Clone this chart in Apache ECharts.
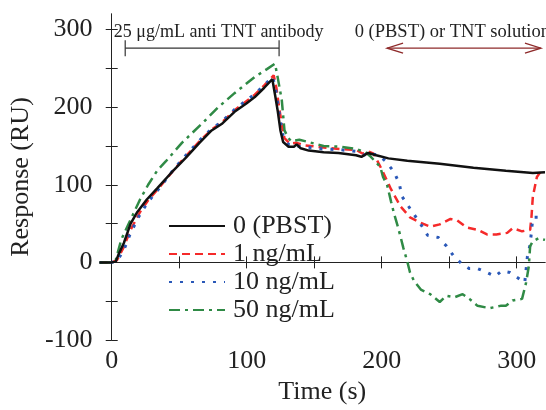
<!DOCTYPE html>
<html>
<head>
<meta charset="UTF-8">
<title>SPR response</title>
<style>
  body { margin: 0; background: #fff; }
  #main { width: 546px; height: 410px; }
</style>
</head>
<body>
<div id="main"></div>
<script src="https://cdn.jsdelivr.net/npm/echarts@6/dist/echarts.min.js"></script>
<script>
// time (s) vs response (RU)
var pbst = [[-9,0],[0,0],[3,1],[5,10],[9,25],[14,50],[19,65],[26,81],[34,96],[46,119],[55,135],[65,154],[74,170],[82,179],[91,194],[100,205],[106,213],[113,225],[119,236],[121,216],[123,195],[125,170],[127,155],[131,149],[135,149],[137,152],[140,147],[146,144],[157,142],[168,141],[181,138],[185,136],[190,141],[196,138],[205,134],[219,131],[243,127],[268,122],[292,118],[312,115],[321,116]];
var tnt1 = [[-9,0],[0,0],[4,3],[9,20],[14,42],[21,65],[27,80],[35,96],[46,119],[55,137],[65,156],[74,171],[82,181],[91,196],[100,208],[106,216],[113,228],[120,241],[122,225],[124,200],[126,178],[128,160],[132,153],[137,154],[142,151],[157,148],[170,146],[181,145],[186,140],[190,143],[194,140],[200,120],[207,94],[214,72],[221,58],[229,51],[236,46],[243,49],[251,56],[256,54],[263,45],[271,42],[278,36],[285,36],[293,38],[297,44],[304,40],[310,42],[311,59],[312,85],[315,110],[317,115],[321,117]];
var tnt10 = [[-9,0],[0,0],[4,2],[9,16],[14,38],[21,62],[27,78],[35,95],[46,120],[55,138],[65,157],[74,172],[82,182],[91,197],[100,209],[106,217],[113,228],[119,239],[121,228],[123,205],[125,182],[127,163],[131,152],[136,150],[142,149],[157,146],[170,145],[181,143],[186,138],[192,140],[198,138],[203,130],[209,117],[213,102],[215,85],[220,72],[229,49],[234,35],[242,32],[248,21],[253,9],[260,-3],[265,-8],[271,-8],[278,-13],[284,-18],[289,-11],[295,-13],[300,-19],[306,-26],[308,8],[310,23],[312,58],[316,58],[321,58]];
var tnt50 = [[-9,0],[0,0],[3,3],[7,29],[14,55],[21,81],[27,100],[34,119],[40,130],[52,154],[67,179],[79,200],[91,218],[106,239],[115,249],[121,256],[123,238],[126,209],[128,170],[131,160],[133,156],[139,158],[157,150],[170,149],[181,146],[188,142],[192,136],[199,123],[201,110],[204,100],[207,78],[209,64],[212,46],[214,33],[216,19],[219,1],[221,-13],[224,-24],[229,-35],[236,-41],[243,-51],[248,-43],[254,-45],[260,-41],[265,-47],[271,-56],[280,-59],[288,-56],[292,-56],[297,-49],[304,-47],[307,-26],[309,-5],[310,21],[312,27],[316,31],[321,29]];

var seriesNames = ['0 (PBST)', '1 ng/mL', '10 ng/mL', '50 ng/mL'];
var xLabels = [0, 100, 200, 300];
var xTicks = [0, 50, 100, 150, 200, 250, 300];
var yLabels = [-100, 0, 100, 200, 300];
var yTicks = [-100, -50, 0, 50, 100, 150, 200, 250, 300];

var FONT = 'Liberation Serif';
var axisLine = { lineStyle: { color: '#222', width: 1 } };
var tick = function (vals) {
  return { inside: true, length: 6, customValues: vals, lineStyle: { color: '#222' } };
};

// annotation: bracket for antibody injection, double arrow for TNT injection
function drawNotes(params, api) {
  var b0 = api.coord([10, 276]), b1 = api.coord([124, 276]);
  var a0 = api.coord([204, 276]), a1 = api.coord([318, 276]);
  var t1 = api.coord([3, 296]), t2 = api.coord([180, 296]);
  var black = { stroke: '#333', lineWidth: 1.2 };
  var red = { stroke: '#8e2a2a', lineWidth: 1.3, fill: null };
  return {
    type: 'group',
    children: [
      { type: 'line', shape: { x1: b0[0], y1: b0[1], x2: b1[0], y2: b1[1] }, style: black },
      { type: 'line', shape: { x1: b0[0], y1: b0[1] - 8, x2: b0[0], y2: b0[1] + 8 }, style: black },
      { type: 'line', shape: { x1: b1[0], y1: b1[1] - 8, x2: b1[0], y2: b1[1] + 8 }, style: black },
      { type: 'line', shape: { x1: a0[0], y1: a0[1], x2: a1[0], y2: a1[1] }, style: red },
      { type: 'polyline', shape: { points: [[a0[0] + 16, a0[1] - 5], [a0[0], a0[1]], [a0[0] + 16, a0[1] + 5]] }, style: red },
      { type: 'polyline', shape: { points: [[a1[0] - 16, a1[1] - 5], [a1[0], a1[1]], [a1[0] - 16, a1[1] + 5]] }, style: red },
      { type: 'text', x: t1[0] - 2, y: t1[1], style: { text: '25 μg/mL anti TNT antibody', font: '18px "Liberation Serif"', fill: '#222', verticalAlign: 'middle' } },
      { type: 'text', x: t2[0], y: t2[1], style: { text: '0 (PBST) or TNT solution', font: '18.5px "Liberation Serif"', fill: '#222', verticalAlign: 'middle' } }
    ]
  };
}

var chart = echarts.init(document.getElementById('main'));
chart.setOption({
  backgroundColor: '#fff',
  animation: false,
  textStyle: { fontFamily: FONT },
  grid: { left: 97, right: 1, top: 14, bottom: 70 },
  legend: {
    data: seriesNames,
    orient: 'vertical',
    left: 168,
    top: 213,
    padding: 0,
    itemWidth: 56,
    itemHeight: 14,
    itemGap: 2,
    itemStyle: { opacity: 0 },
    textStyle: { fontFamily: FONT, fontSize: 26, color: '#222', lineHeight: 26, padding: [0, 0, 0, 3] }
  },
  xAxis: [{
    type: 'value', min: -9, max: 321,
    name: 'Time (s)', nameLocation: 'middle', nameGap: 39,
    nameTextStyle: { fontFamily: FONT, fontSize: 26, color: '#222' },
    axisLine: axisLine, axisTick: tick(xTicks), splitLine: { show: false },
    axisLabel: { customValues: xLabels, fontFamily: FONT, fontSize: 26, color: '#222', margin: 8 }
  }, {
    type: 'value', position: 'top', min: -9, max: 321,
    axisLine: axisLine, axisTick: tick(xTicks), splitLine: { show: false },
    axisLabel: { show: false }
  }],
  yAxis: [{
    type: 'value', min: -100, max: 320,
    name: 'Response (RU)', nameLocation: 'middle', nameGap: 52,
    nameTextStyle: { fontFamily: FONT, fontSize: 26, color: '#222' },
    axisLine: axisLine, axisTick: tick(yTicks), splitLine: { show: false },
    axisLabel: { customValues: yLabels, fontFamily: FONT, fontSize: 26, color: '#222', margin: 7 }
  }, {
    type: 'value', position: 'right', min: -100, max: 320,
    axisLine: axisLine, axisTick: tick(yTicks), splitLine: { show: false },
    axisLabel: { show: false }
  }],
  series: [
    { name: seriesNames[1], type: 'line', data: tnt1, symbol: 'none', z: 3,
      lineStyle: { color: '#f52a2a', width: 2.5, type: [8, 5] }, itemStyle: { color: '#f52a2a' } },
    { name: seriesNames[2], type: 'line', data: tnt10, symbol: 'none', z: 3,
      lineStyle: { color: '#2a58b8', width: 3, type: [3, 8] }, itemStyle: { color: '#2a58b8' } },
    { name: seriesNames[3], type: 'line', data: tnt50, symbol: 'none', z: 3,
      lineStyle: { color: '#2f8a45', width: 2.5, type: [11, 5, 3, 5] }, itemStyle: { color: '#2f8a45' } },
    { name: seriesNames[0], type: 'line', data: pbst, symbol: 'none', z: 4,
      lineStyle: { color: '#111', width: 2.5 }, itemStyle: { color: '#111' } },
    { type: 'custom', data: [0], renderItem: drawNotes, clip: false, silent: true, z: 5 }
  ]
});
</script>
</body>
</html>
